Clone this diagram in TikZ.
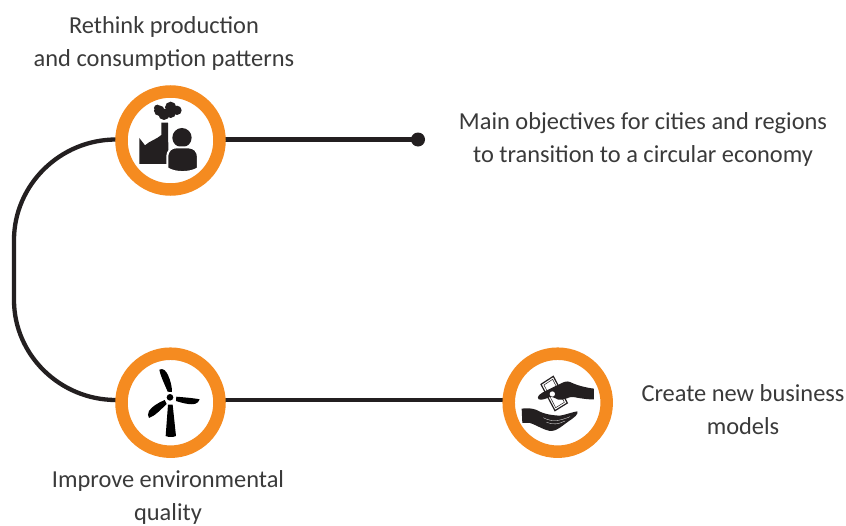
\documentclass[tikz,border=0pt]{standalone}
\usepackage{fontspec}
\setmainfont{Carlito}[Ligatures=Common]
\definecolor{ringorange}{HTML}{F58B20}
\definecolor{inkdark}{HTML}{231F20}
\definecolor{textgrey}{HTML}{3A3A3A}
\tikzset{
  ring/.style={circle,draw=ringorange,line width=12.5pt,fill=white,minimum size=98pt,inner sep=0pt},
  label/.style={align=center,text=textgrey,font=\fontsize{24.4}{33}\selectfont,inner sep=0pt},
  conn/.style={draw=inkdark,line width=4.3pt},
  ink/.style={fill=inkdark,draw=none},
  zoomed/.style={shift={#1},x=0.3333pt,y=-0.3333pt}
}
\begin{document}
\begin{tikzpicture}[x=1pt,y=-1pt]
\useasboundingbox (0,0) rectangle (846,525);
\fill[white] (0,0) rectangle (846,525);
\coordinate (startdot) at (418,139.5);
\coordinate (a1) at (116,139.5);
\coordinate (a2) at (116,400);
\coordinate (a3) at (14,240);
\coordinate (a4) at (14,300);
\coordinate (b1) at (225,139.5);
\coordinate (b2) at (225,400);
\coordinate (b3) at (503,400);
\draw[conn] (b1) -- (startdot);
\draw[conn] (b2) -- (b3);
\draw[conn] (a1) .. controls (60,139.5) and (14,185) .. (a3) -- (a4) .. controls (14,355) and (60,400) .. (a2);
\fill[inkdark] (startdot) circle (7);
\node[ring] (c1) at (170.5,140.5) {};
\node[ring] (c2) at (170.5,402.7) {};
\node[ring] (c3) at (557.7,402.7) {};
% factory and person
\begin{scope}[zoomed={(100,70)}]
\fill[ink] (118,204) -- (135,226) .. controls (150,212) and (170,208) .. (184,195) -- (184,158) -- (204,158) -- (205,235) -- (210,282) -- (118,282) -- cycle;
\fill[ink] (178,122) circle (16) (192,133) circle (17) (212,112) circle (17) (212,128) circle (16) (231,121) circle (14) (172,114) circle (10);
\fill[ink] (246,203) circle (29);
\draw[white,line width=2pt,fill=inkdark] (202,262) .. controls (202,240) and (215,232) .. (230,232) -- (265,232) .. controls (282,232) and (294,243) .. (294,262) -- (294,295) .. controls (270,310) and (225,310) .. (202,295) -- cycle;
\end{scope}
% turbine
\begin{scope}[zoomed={(100,335)}]
\fill[black] (203,170) .. controls (195,150) and (182,125) .. (178,104) .. controls (190,98) and (198,108) .. (204,120) .. controls (212,138) and (216,155) .. (216,171) -- cycle;
\fill[black] (229,185) .. controls (250,187) and (280,189) .. (299,193) .. controls (294,208) and (280,209) .. (265,207) .. controls (250,205) and (238,201) .. (228,198) -- cycle;
\fill[black] (194,195) .. controls (175,203) and (155,215) .. (147,228) .. controls (143,236) and (143,244) .. (147,249) .. controls (165,243) and (183,223) .. (200,207) -- cycle;
\fill[black] (204,209) -- (218,209) -- (228,303) .. controls (220,307) and (205,307) .. (197,303) -- cycle;
\fill[black] (210,187) circle (10);
\end{scope}
% hands and banknote
\begin{scope}[zoomed={(490,335)}]
\draw[inkdark,line width=1.2pt,fill=white] (153,148) -- (190,124) -- (232,204) -- (195,227) -- cycle;
\draw[inkdark,line width=0.5pt] (162,150) -- (188,133) -- (223,202) -- (197,218) -- cycle;
\fill[ink] (312,161) -- (312,193) .. controls (295,194) and (270,190) .. (250,186) .. controls (235,184) and (225,197) .. (205,194) .. controls (195,190) and (190,186) .. (183,185) .. controls (170,190) and (155,197) .. (146,193) .. controls (138,185) and (150,176) .. (168,167) .. controls (185,160) and (195,153) .. (208,148) .. controls (220,141) and (230,137) .. (240,141) .. controls (265,153) and (290,158) .. (312,161) -- cycle;
\fill[white] (187,177) circle (8);
\fill[ink] (95,221) .. controls (110,219) and (125,219) .. (140,225) .. controls (160,237) and (185,241) .. (210,242) .. controls (228,239) and (248,231) .. (262,229) .. controls (266,238) and (252,248) .. (237,258) .. controls (217,272) and (200,288) .. (185,288) .. controls (165,288) and (140,270) .. (120,264) -- (97,264) -- cycle;
\draw[white,line width=0.3pt] (160,248) .. controls (185,262) and (210,258) .. (240,245) (170,262) .. controls (190,270) and (205,268) .. (225,258);
\end{scope}
\node[label] (t1) at (164,43.5) {Rethink production\\and consumption patterns};
\node[label] (t2) at (643,139.5) {Main objectives for cities and regions\\to transition to a circular economy};
\node[label] (t3) at (168,497.5) {Improve environmental\\quality};
\node[label] (t4) at (743,409.5) {Create new business\\models};
\end{tikzpicture}
\end{document}
